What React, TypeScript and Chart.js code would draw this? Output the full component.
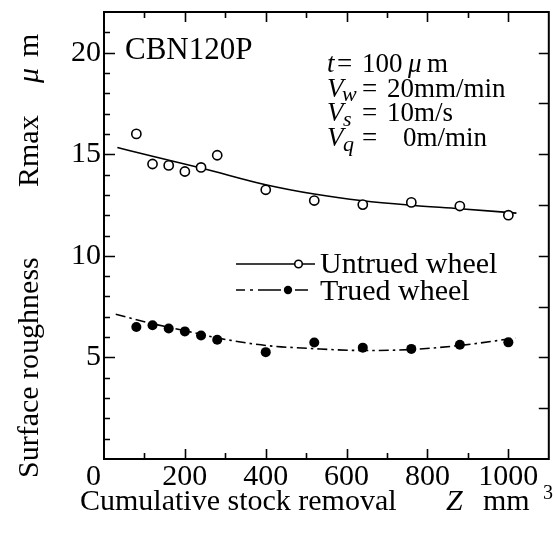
import { useEffect, useRef } from "react";
import { Chart, registerables } from "chart.js";

Chart.register(...registerables);

// Measured surface roughness Rmax (µm) against cumulative stock removal Z (mm³)
const untruedZ = [80, 120, 160, 200, 240, 280, 400, 520, 640, 760, 880, 1000];
const untruedRmax = [16.0, 14.52, 14.45, 14.15, 14.35, 14.95, 13.25, 12.72, 12.52, 12.63, 12.45, 12.0];
const truedZ = [80, 120, 160, 200, 240, 280, 400, 520, 640, 760, 880, 1000];
const truedRmax = [6.5, 6.58, 6.42, 6.28, 6.08, 5.87, 5.26, 5.73, 5.48, 5.42, 5.62, 5.74];

// Trend curves drawn through each series
const untruedFitZ = [33, 120, 245, 400, 520, 640, 760, 880, 1020];
const untruedFitRmax = [15.33, 14.9, 14.3, 13.5, 13.04, 12.71, 12.49, 12.32, 12.1];
const truedFitZ = [29, 120, 204, 280, 400, 520, 640, 760, 880, 1017];
const truedFitRmax = [7.12, 6.66, 6.3, 5.96, 5.59, 5.43, 5.34, 5.39, 5.59, 5.95];

// Axis ranges, ticks and labels
const xMin = 0;
const xMax = 1100;
const yMin = 0;
const yMax = 22;
const xTicks = [100, 200, 300, 400, 500, 600, 700, 800, 900, 1000];
const xTickLabels = ["200", "400", "600", "800", "1000"];
const xLabelValues = [200, 400, 600, 800, 1000];
const yTicksLeft = [1, 2, 3, 4, 5, 6, 7, 8, 9, 10, 11, 12, 13, 14, 15, 16, 17, 18, 19, 20, 21];
const yTicksRight = [2.5, 5, 7.5, 10, 12.5, 15, 17.5, 20];
const yTickLabels = ["5", "10", "15", "20"];
const yLabelValues = [5, 10, 15, 20];

const SERIF = "'Liberation Serif', 'Times New Roman', serif";

const toPoints = (xs: number[], ys: number[]) => xs.map((x, i) => ({ x, y: ys[i] }));

const framePlugin = {
  id: "frameAndText",
  afterDraw(chart: any) {
    const { ctx, chartArea, scales } = chart;
    const { left, right, top, bottom } = chartArea;
    const xs = scales.x;
    const ys = scales.y;
    ctx.save();
    ctx.strokeStyle = "#000";
    ctx.fillStyle = "#000";

    // frame
    ctx.lineWidth = 2;
    ctx.strokeRect(left, top, right - left, bottom - top);

    // inward ticks
    ctx.lineWidth = 1.6;
    ctx.beginPath();
    yTicksLeft.forEach((v) => {
      const py = Math.round(ys.getPixelForValue(v)) + 0.5;
      const len = v % 5 === 0 ? 11 : 6;
      ctx.moveTo(left, py);
      ctx.lineTo(left + len, py);
    });
    yTicksRight.forEach((v) => {
      const py = Math.round(ys.getPixelForValue(v)) + 0.5;
      ctx.moveTo(right, py);
      ctx.lineTo(right - 10, py);
    });
    xTicks.forEach((v) => {
      const px = Math.round(xs.getPixelForValue(v)) + 0.5;
      const len = v % 200 === 0 ? 10 : 6;
      ctx.moveTo(px, bottom);
      ctx.lineTo(px, bottom - len);
      ctx.moveTo(px, top);
      ctx.lineTo(px, top + len);
    });
    ctx.stroke();

    // tick labels
    ctx.font = `30px ${SERIF}`;
    ctx.textAlign = "right";
    ctx.textBaseline = "middle";
    yLabelValues.forEach((v, i) => {
      ctx.fillText(yTickLabels[i], left - 3, ys.getPixelForValue(v));
    });
    ctx.textBaseline = "alphabetic";
    ctx.fillText("0", left - 3, bottom + 26);
    ctx.textAlign = "center";
    xLabelValues.forEach((v, i) => {
      ctx.fillText(xTickLabels[i], xs.getPixelForValue(v), bottom + 26);
    });

    // x axis title
    ctx.textAlign = "left";
    ctx.font = `30px ${SERIF}`;
    ctx.fillText("Cumulative stock removal", 80, 510);
    ctx.font = `italic 30px ${SERIF}`;
    ctx.fillText("Z", 446, 510);
    ctx.font = `30px ${SERIF}`;
    ctx.fillText("mm", 483, 510);
    ctx.font = `20px ${SERIF}`;
    ctx.fillText("3", 543, 499);

    // y axis title (rotated)
    const vText = (text: string, x: number, y: number, font: string) => {
      ctx.save();
      ctx.translate(x, y);
      ctx.rotate(-Math.PI / 2);
      ctx.font = font;
      ctx.textAlign = "left";
      ctx.fillText(text, 0, 0);
      ctx.restore();
    };
    vText("Surface roughness", 38, 478, `30px ${SERIF}`);
    vText("Rmax", 38, 187, `30px ${SERIF}`);
    vText("\u03BC", 38, 83, `italic 30px ${SERIF}`);
    vText("m", 38, 57, `30px ${SERIF}`);

    // wheel label
    ctx.font = `31px ${SERIF}`;
    ctx.fillText("CBN120P", 125, 59);

    // grinding conditions
    const t = (text: string, x: number, y: number, font: string) => {
      ctx.font = font;
      ctx.fillText(text, x, y);
    };
    const up = `27px ${SERIF}`;
    const it = `italic 27px ${SERIF}`;
    const sub = `italic 22px ${SERIF}`;
    t("t", 327, 72, it);
    t("=", 337, 72, up);
    t("100", 362, 72, up);
    t("\u03BC", 408, 72, it);
    t("m", 427, 72, up);

    t("V", 327, 97, it);
    t("w", 342, 101, sub);
    t("=", 362, 97, up);
    t("20mm/min", 387, 97, up);

    t("V", 327, 121, it);
    t("s", 343, 126, sub);
    t("=", 362, 121, up);
    t("10m/s", 387, 121, up);

    t("V", 327, 146, it);
    t("q", 343, 151, sub);
    t("=", 362, 146, up);
    t("0m/min", 403, 146, up);

    // legend
    ctx.lineWidth = 1.6;
    ctx.beginPath();
    ctx.moveTo(236, 264);
    ctx.lineTo(315, 264);
    ctx.stroke();
    ctx.beginPath();
    ctx.arc(298.5, 264, 3.8, 0, Math.PI * 2);
    ctx.fillStyle = "#fff";
    ctx.fill();
    ctx.stroke();
    ctx.fillStyle = "#000";
    ctx.beginPath();
    [[236, 245], [250, 253], [258, 281], [295, 308]].forEach(([a, b]) => {
      ctx.moveTo(a, 290);
      ctx.lineTo(b, 290);
    });
    ctx.stroke();
    ctx.beginPath();
    ctx.arc(288, 290, 4.2, 0, Math.PI * 2);
    ctx.fill();
    ctx.font = `30px ${SERIF}`;
    ctx.fillText("Untrued wheel", 320, 273);
    ctx.fillText("Trued wheel", 320, 300);

    ctx.restore();
  },
};

export default function App() {
  const canvasRef = useRef<HTMLCanvasElement | null>(null);

  useEffect(() => {
    const canvas = canvasRef.current;
    if (!canvas) return;
    const chart = new Chart(canvas, {
      type: "scatter",
      data: {
        datasets: [
          {
            label: "Untrued wheel",
            data: toPoints(untruedZ, untruedRmax),
            showLine: false,
            pointStyle: "circle",
            pointRadius: 4.6,
            pointBorderWidth: 1.6,
            pointBackgroundColor: "#fff",
            pointBorderColor: "#000",
            order: 0,
          },
          {
            label: "Trued wheel",
            data: toPoints(truedZ, truedRmax),
            showLine: false,
            pointStyle: "circle",
            pointRadius: 5,
            pointBorderWidth: 0,
            pointBackgroundColor: "#000",
            pointBorderColor: "#000",
            order: 0,
          },
          {
            label: "Untrued fit",
            data: toPoints(untruedFitZ, untruedFitRmax),
            showLine: true,
            pointRadius: 0,
            borderColor: "#000",
            borderWidth: 1.6,
            cubicInterpolationMode: "monotone",
            fill: false,
            order: 1,
          },
          {
            label: "Trued fit",
            data: toPoints(truedFitZ, truedFitRmax),
            showLine: true,
            pointRadius: 0,
            borderColor: "#000",
            borderWidth: 1.6,
            borderDash: [10, 4, 2.5, 4],
            cubicInterpolationMode: "monotone",
            fill: false,
            order: 1,
          },
        ],
      },
      options: {
        responsive: false,
        devicePixelRatio: 1,
        animation: false,
        layout: { padding: { left: 104, right: 5, top: 12, bottom: 81 } },
        scales: {
          x: { type: "linear", min: xMin, max: xMax, display: false },
          y: { type: "linear", min: yMin, max: yMax, display: false },
        },
        plugins: {
          legend: { display: false },
          tooltip: { enabled: false },
        },
      },
      plugins: [framePlugin],
    });
    return () => chart.destroy();
  }, []);

  return (
    <div style={{ position: "fixed", left: 0, top: 0, width: 555, height: 540, background: "#fff" }}>
      <canvas ref={canvasRef} width={555} height={540} style={{ display: "block" }} />
    </div>
  );
}
